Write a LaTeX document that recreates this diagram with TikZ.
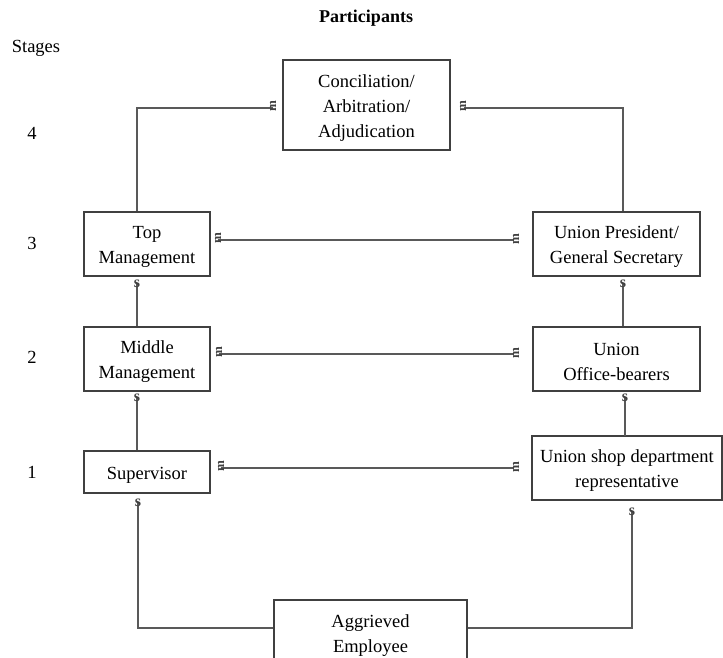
\documentclass[tikz,border=0pt]{standalone}
\usepackage{fontspec}
\setmainfont{Liberation Serif}
\begin{document}
\begin{tikzpicture}[x=1pt,y=-1pt,
  box/.style={draw=black!75,line width=1.1pt,fill=white,inner sep=0pt},
  btxt/.style={align=center,inner sep=0pt,yshift=-3pt,font=\fontsize{18.5}{25}\selectfont},
  aetxt/.style={align=center,inner sep=0pt,font=\fontsize{18.5}{25}\selectfont},
  conn/.style={draw=black!65,line width=1.2pt},
  lab/.style={font=\fontsize{18.5}{25}\selectfont,inner sep=0pt},
  vtip/.style={font=\bfseries\fontsize{16}{16}\selectfont,text=black!75,inner sep=0pt},
  htip/.style={font=\bfseries\fontsize{13}{13}\selectfont,text=black!75,inner sep=0pt,rotate=90}]
\useasboundingbox (0,0) rectangle (723,658);

\node[lab,font=\bfseries\fontsize{18}{22}\selectfont] (part) at (366,18) {Participants};
\node[lab] (stages) at (36,48) {Stages};
\node[lab] (s4) at (32,133) {4};
\node[lab] (s3) at (32,243) {3};
\node[lab] (s2) at (32,357) {2};
\node[lab] (s1) at (32,472) {1};

\node[box,minimum width=167pt,minimum height=90pt,label={[btxt]center:{Conciliation/\\Arbitration/\\Adjudication}}] (con) at (366.5,105) {};
\node[box,minimum width=126pt,minimum height=64pt,label={[btxt]center:{Top\\Management}}] (tm) at (147,244) {};
\node[box,minimum width=167pt,minimum height=64pt,label={[btxt]center:{Union President/\\General Secretary}}] (up) at (616.5,244) {};
\node[box,minimum width=126pt,minimum height=64pt,label={[btxt]center:{Middle\\Management}}] (mm) at (147,359) {};
\node[box,minimum width=167pt,minimum height=64pt,label={[btxt]center:{Union\\Office-bearers}}] (uo) at (616.5,359) {};
\node[box,minimum width=126pt,minimum height=42pt,label={[btxt]center:{Supervisor}}] (sv) at (147,472) {};
\node[box,minimum width=190pt,minimum height=64pt,label={[btxt]center:{Union shop department\\representative}}] (us) at (627,468) {};
\node[box,minimum width=193pt,minimum height=72pt,label={[aetxt]center:{Aggrieved\\Employee}}] (ae) at (370.5,636) {};

% stage 4 links
\coordinate (c1) at (137,108);
\coordinate (c2) at (623,108);
\draw[conn] (tm.north -| c1) -- (c1) -- (273,108);
\draw[conn] (up.north -| c2) -- (c2) -- (464,108);
\node[htip] (h1) at (273,106) {m};
\node[htip] (h2) at (463,106) {m};

% horizontal links
\draw[conn] (218,240) -- (514,240);
\node[htip] (h3) at (218,238) {m};
\node[htip] (h4) at (516,239) {m};
\draw[conn] (219,354) -- (514,354);
\node[htip] (h5) at (219,352) {m};
\node[htip] (h6) at (516,353) {m};
\draw[conn] (221,468) -- (514,468);
\node[htip] (h7) at (221,466) {m};
\node[htip] (h8) at (516,467) {m};

% vertical links
\draw[conn] (mm.north -| c1) -- (137,284);
\node[vtip] (v1) at (137,284) {s};
\draw[conn] (sv.north -| c1) -- (137,398);
\node[vtip] (v2) at (137,398) {s};
\draw[conn] (uo.north -| c2) -- (623,284);
\node[vtip] (v3) at (623,284) {s};
\draw[conn] (625,436) -- (625,398);
\node[vtip] (v4) at (625,398) {s};

% aggrieved links
\coordinate (a1) at (138,628);
\coordinate (a2) at (632,628);
\draw[conn] (ae.west |- a1) -- (a1) -- (138,503);
\node[vtip] (v5) at (138,503) {s};
\draw[conn] (ae.east |- a2) -- (a2) -- (632,512);
\node[vtip] (v6) at (632,512) {s};
\end{tikzpicture}
\end{document}
